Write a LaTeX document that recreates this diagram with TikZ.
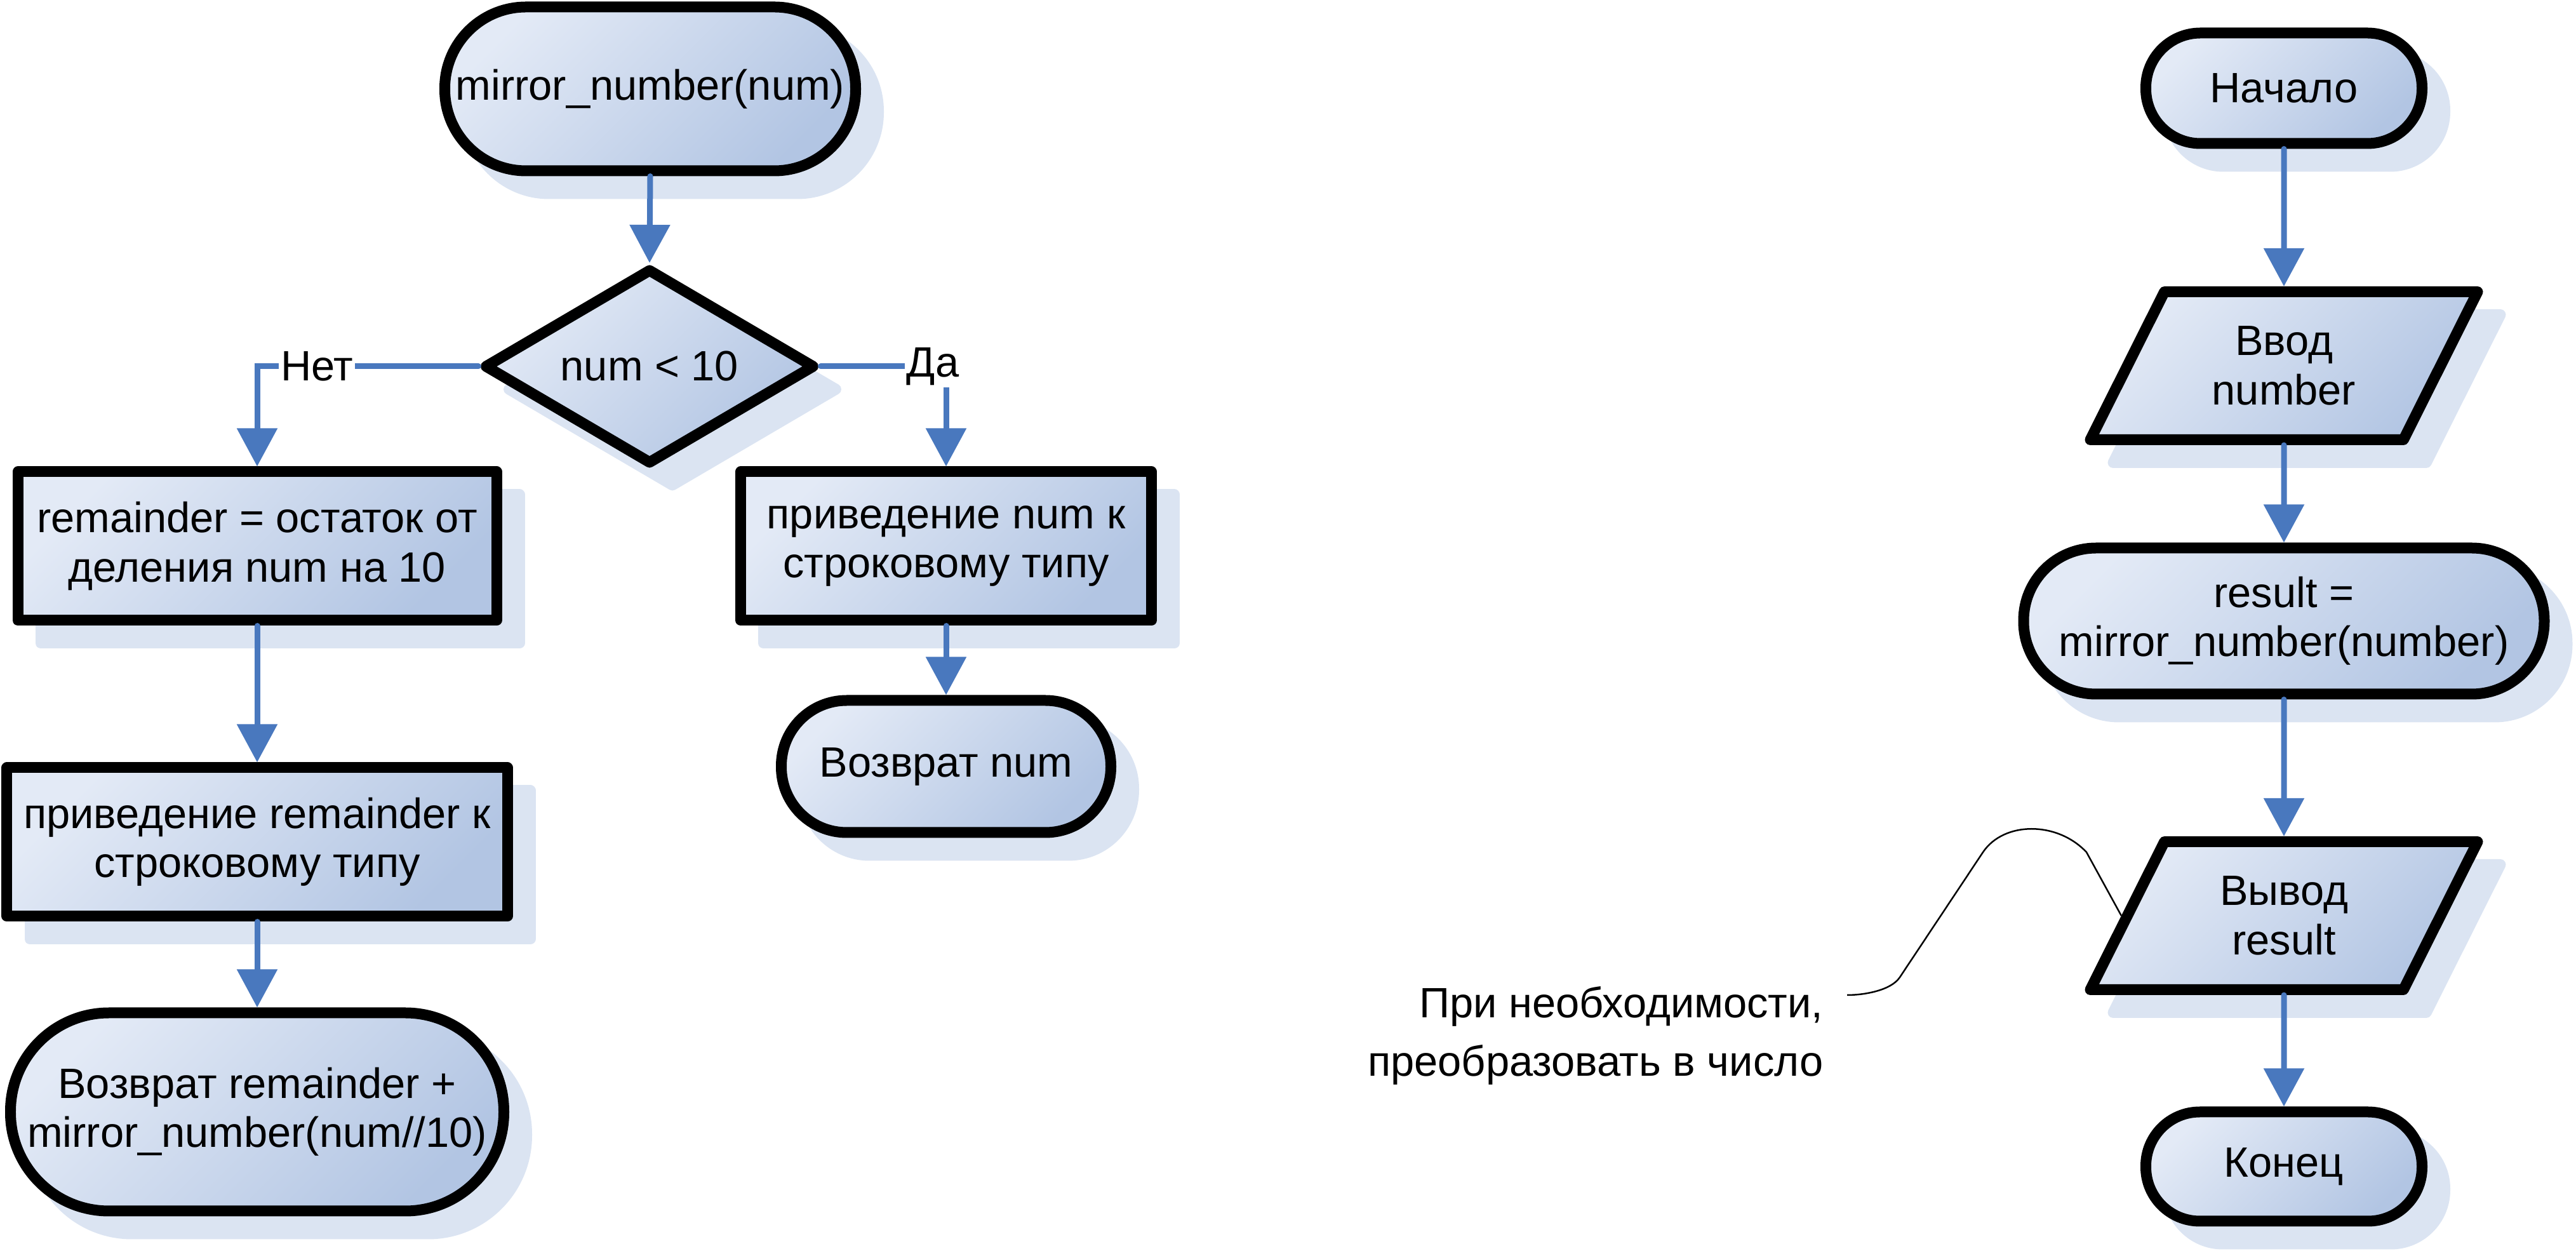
\documentclass[tikz,border=0pt]{standalone}
\usepackage{fontspec}
\setmainfont{Liberation Sans}
\usetikzlibrary{shapes.geometric,shadows,arrows.meta}
\definecolor{flowblue}{RGB}{73,120,190}
\definecolor{shadowblue}{RGB}{219,228,242}
\definecolor{filltop}{RGB}{227,234,246}
\definecolor{fillbot}{RGB}{178,197,227}

\begin{document}
\begin{tikzpicture}[
        base/.style={draw=black,line width=0.17cm,line join=round,align=center,
            font=\fontsize{19}{22}\selectfont,
            top color=filltop,bottom color=fillbot,shading angle=45,
            drop shadow={shadow xshift=0.36cm,shadow yshift=-0.36cm,fill=shadowblue,draw=shadowblue,opacity=1}},
        block/.style={base,rectangle,minimum height=2.34cm},
        term/.style={base,rectangle,rounded corners=#1,minimum height=2*#1+0.02cm},
        cond/.style={base,diamond,aspect=1.7},
        io/.style={base,trapezium,trapezium left angle=51.6,trapezium right angle=128.4,
            trapezium stretches body,minimum width=6.1cm,minimum height=2.33cm},
        flow/.style={draw=flowblue,line width=0.09cm,line cap=round,-{Triangle[width=0.62cm,length=0.6cm]}},
        branch/.style={fill=white,inner sep=0.03cm,font=\fontsize{19}{22}\selectfont}
    ]
            \useasboundingbox (0,0) rectangle (40.57,-19.70);

            \node[term=1.28cm,minimum width=6.47cm] (func) at (10.24,-1.40) {mirror\_number(num)};
            \node[cond,minimum width=5.22cm,minimum height=3.09cm] (less) at (10.23,-5.77) {num < 10};
            \node[block,minimum width=7.54cm] (rem) at (4.05,-8.60) {remainder = остаток от\\деления num на 10};
            \node[block,minimum width=6.47cm] (numstr) at (14.90,-8.60) {приведение num к\\строковому типу};
            \node[block,minimum width=7.88cm] (remstr) at (4.05,-13.26) {приведение remainder к\\строковому типу};
            \node[term=1.55cm,minimum width=7.77cm] (retrec) at (4.05,-17.51) {Возврат remainder +\\mirror\_number(num//10)};
            \node[term=1.03cm,minimum width=5.19cm] (retnum) at (14.90,-12.07) {Возврат num};

            \node[term=0.86cm,minimum width=4.35cm] (start) at (35.97,-1.39) {Начало};
            \node[io] (input) at (35.97,-5.76) {Ввод\\number};
            \node[term=1.14cm,minimum width=8.20cm] (call) at (35.97,-9.78) {result =\\mirror\_number(number)};
            \node[io] (output) at (35.97,-14.42) {Вывод\\result};
            \node[term=0.85cm,minimum width=4.35cm] (finish) at (35.97,-18.37) {Конец};

            \foreach \a/\b in {func/less,rem/remstr,remstr/retrec,numstr/retnum,start/input,input/call,call/output,output/finish}{
                \draw[flow] (\a.south)--(\b.north);
            }
            \draw[flow] (less.west)-|node[branch,pos=0.365]{Нет}(rem.north);
            \draw[flow] (less.east)-|node[branch,pos=0.5,xshift=-0.21cm]{Да}(numstr.north);

            \node[font=\fontsize{19}{26}\selectfont,align=right,anchor=north east,inner sep=0pt] (note) at (28.72,-15.53) {При необходимости,\\преобразовать в число};
            \coordinate (notetip) at (29.09,-15.67);
            \draw[line width=0.025cm] (output.left side)--(32.86,-13.42)
                .. controls (32.40,-12.93) and (31.56,-12.93) .. (31.23,-13.42)--(29.92,-15.39)
                .. controls (29.78,-15.60) and (29.35,-15.67) .. (notetip);
\end{tikzpicture}
\end{document}
